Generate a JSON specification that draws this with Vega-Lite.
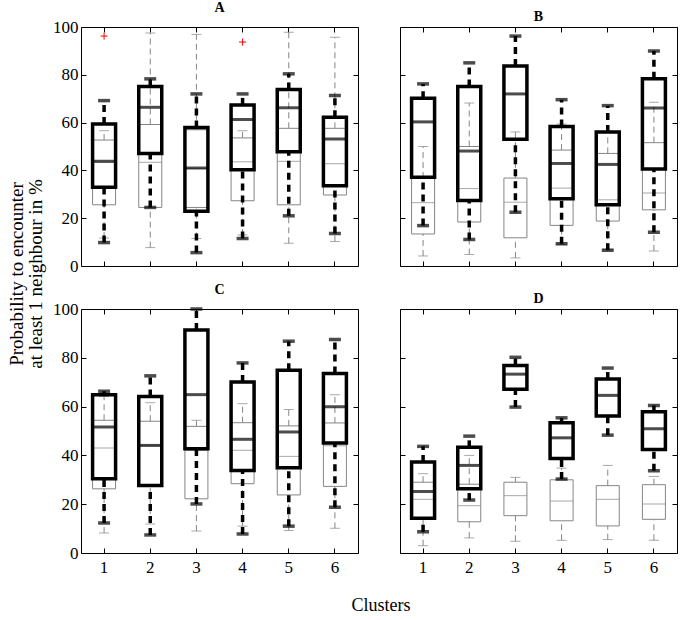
{
  "$schema": "https://vega.github.io/schema/vega-lite/v6.json",
  "padding": {"left": 7, "top": 0, "right": 2, "bottom": 2},
  "background": "white",
  "datasets": {
    "A": [
      {"cluster":1,"grp":"g","lo":11.7,"q1":25.6,"med":43.4,"q3":52.7,"hi":56.6},
      {"cluster":2,"grp":"g","lo":7.7,"q1":24.5,"med":43.4,"q3":59.2,"hi":97.5},
      {"cluster":3,"grp":"g","lo":11.5,"q1":24.5,"med":40.8,"q3":57.0,"hi":96.9},
      {"cluster":4,"grp":"g","lo":13.0,"q1":27.3,"med":43.6,"q3":53.6,"hi":56.6},
      {"cluster":5,"grp":"g","lo":9.5,"q1":25.6,"med":43.8,"q3":57.6,"hi":97.8},
      {"cluster":6,"grp":"g","lo":10.3,"q1":29.7,"med":42.8,"q3":57.6,"hi":95.7},
      {"cluster":1,"grp":"b","lo":9.8,"q1":32.9,"med":43.8,"q3":59.4,"hi":69.2},
      {"cluster":2,"grp":"b","lo":24.5,"q1":47.1,"med":66.4,"q3":75.1,"hi":78.3},
      {"cluster":3,"grp":"b","lo":5.6,"q1":22.9,"med":41.0,"q3":58.0,"hi":72.0},
      {"cluster":4,"grp":"b","lo":11.5,"q1":40.3,"med":61.3,"q3":67.4,"hi":72.0},
      {"cluster":5,"grp":"b","lo":21.0,"q1":47.8,"med":66.2,"q3":73.8,"hi":80.4},
      {"cluster":6,"grp":"b","lo":13.6,"q1":33.6,"med":53.1,"q3":62.2,"hi":71.3}
    ],
    "oA": [
      {"cluster":1,"val":96.2},
      {"cluster":4,"val":93.7}
    ],
    "B": [
      {"cluster":1,"grp":"g","lo":4.2,"q1":13.4,"med":26.5,"q3":36.8,"hi":50.0},
      {"cluster":2,"grp":"g","lo":4.8,"q1":18.4,"med":32.4,"q3":50.0,"hi":68.2},
      {"cluster":3,"grp":"g","lo":3.4,"q1":11.8,"med":26.7,"q3":36.8,"hi":56.1},
      {"cluster":4,"grp":"g","lo":9.0,"q1":17.0,"med":32.6,"q3":48.5,"hi":59.4},
      {"cluster":5,"grp":"g","lo":7.0,"q1":18.8,"med":27.7,"q3":47.1,"hi":56.1},
      {"cluster":6,"grp":"g","lo":6.3,"q1":23.5,"med":30.5,"q3":51.6,"hi":68.5},
      {"cluster":1,"grp":"b","lo":16.9,"q1":37.1,"med":60.3,"q3":70.2,"hi":76.2},
      {"cluster":2,"grp":"b","lo":11.1,"q1":27.4,"med":48.1,"q3":75.1,"hi":85.0},
      {"cluster":3,"grp":"b","lo":22.5,"q1":53.0,"med":72.0,"q3":83.7,"hi":96.2},
      {"cluster":4,"grp":"b","lo":9.3,"q1":28.1,"med":42.9,"q3":58.4,"hi":69.6},
      {"cluster":5,"grp":"b","lo":6.6,"q1":25.6,"med":42.5,"q3":56.1,"hi":67.1},
      {"cluster":6,"grp":"b","lo":14.1,"q1":40.6,"med":66.1,"q3":78.3,"hi":90.0}
    ],
    "C": [
      {"cluster":1,"grp":"g","lo":8.2,"q1":26.3,"med":43.0,"q3":54.4,"hi":64.1},
      {"cluster":2,"grp":"g","lo":11.9,"q1":28.0,"med":44.0,"q3":54.0,"hi":61.6},
      {"cluster":3,"grp":"g","lo":9.0,"q1":22.2,"med":42.0,"q3":51.9,"hi":54.4},
      {"cluster":4,"grp":"g","lo":11.0,"q1":28.4,"med":42.1,"q3":53.4,"hi":61.2},
      {"cluster":5,"grp":"g","lo":9.2,"q1":23.8,"med":39.6,"q3":52.1,"hi":58.8},
      {"cluster":6,"grp":"g","lo":10.1,"q1":27.3,"med":44.0,"q3":53.3,"hi":64.9},
      {"cluster":1,"grp":"b","lo":12.3,"q1":30.4,"med":51.6,"q3":64.9,"hi":66.3},
      {"cluster":2,"grp":"b","lo":7.4,"q1":27.7,"med":44.1,"q3":64.1,"hi":72.6},
      {"cluster":3,"grp":"b","lo":20.1,"q1":42.7,"med":64.9,"q3":91.4,"hi":100.0},
      {"cluster":4,"grp":"b","lo":7.8,"q1":33.8,"med":46.6,"q3":70.1,"hi":77.9},
      {"cluster":5,"grp":"b","lo":11.0,"q1":34.9,"med":49.6,"q3":74.9,"hi":86.8},
      {"cluster":6,"grp":"b","lo":18.8,"q1":45.1,"med":59.9,"q3":73.6,"hi":87.5}
    ],
    "D": [
      {"cluster":1,"grp":"g","lo":3.0,"q1":14.0,"med":22.0,"q3":29.0,"hi":32.5},
      {"cluster":2,"grp":"g","lo":6.2,"q1":12.8,"med":19.4,"q3":28.2,"hi":40.0},
      {"cluster":3,"grp":"g","lo":4.8,"q1":15.3,"med":23.5,"q3":29.0,"hi":31.0},
      {"cluster":4,"grp":"g","lo":5.2,"q1":13.2,"med":21.3,"q3":30.0,"hi":34.8},
      {"cluster":5,"grp":"g","lo":5.5,"q1":11.1,"med":22.0,"q3":27.6,"hi":35.9},
      {"cluster":6,"grp":"g","lo":5.2,"q1":13.8,"med":20.1,"q3":28.0,"hi":31.4},
      {"cluster":1,"grp":"b","lo":8.7,"q1":14.2,"med":25.2,"q3":37.3,"hi":43.7},
      {"cluster":2,"grp":"b","lo":21.7,"q1":26.3,"med":35.9,"q3":43.3,"hi":47.9},
      {"cluster":3,"grp":"b","lo":59.8,"q1":67.1,"med":73.3,"q3":76.8,"hi":80.2},
      {"cluster":4,"grp":"b","lo":30.3,"q1":38.7,"med":47.2,"q3":53.4,"hi":55.4},
      {"cluster":5,"grp":"b","lo":48.3,"q1":56.1,"med":64.6,"q3":71.3,"hi":75.8},
      {"cluster":6,"grp":"b","lo":33.7,"q1":42.4,"med":50.9,"q3":57.9,"hi":60.5}
    ]
  },
  "title": {"text": "Clusters", "orient": "bottom", "anchor": "middle", "fontSize": 18, "fontWeight": "normal", "font": "Liberation Serif", "color": "black", "offset": 21, "dx": 38},
  "vconcat": [
    {
      "title": {"text": ["Probability to encounter", "at least 1 neighbour in %"], "orient": "left", "anchor": "middle", "fontSize": 19, "fontWeight": "normal", "font": "Liberation Serif", "color": "black", "offset": 6, "lineHeight": 19, "dx": 14},
      "spacing": 7,
      "vconcat": [
        {
          "spacing": 40,
          "hconcat": [
            {
              "title": {"text": "A"},
              "width": 277, "height": 239,
              "data": {"name": "A"},
              "resolve": {"axis": {"x": "independent", "y": "independent"}},
              "layer": [
                {
                  "encoding": {"x": {"field": "cluster", "type": "ordinal", "scale": {"domain": [1,2,3,4,5,6], "paddingInner": 0, "paddingOuter": 0}, "axis": {"title": null, "labels": false, "labelAngle": 0}}},
                  "layer": [
                    {"transform": [{"filter": "datum.grp == 'g'"}], "mark": {"type": "rule", "color": "#858585", "strokeWidth": 1, "strokeDash": [6, 4]},
                     "encoding": {"y": {"field": "q3", "type": "quantitative", "scale": {"domain": [0, 100], "nice": false}, "axis": {"values": [0,20,40,60,80,100], "title": null, "labelPadding": 8}}, "y2": {"field": "hi"}}},
                    {"transform": [{"filter": "datum.grp == 'g'"}], "mark": {"type": "rule", "color": "#858585", "strokeWidth": 1, "strokeDash": [6, 4]},
                     "encoding": {"y": {"field": "lo", "type": "quantitative"}, "y2": {"field": "q1"}}},
                    {"transform": [{"filter": "datum.grp == 'g'"}], "mark": {"type": "tick", "color": "#858585", "size": 10, "thickness": 1},
                     "encoding": {"y": {"field": "hi", "type": "quantitative"}}},
                    {"transform": [{"filter": "datum.grp == 'g'"}], "mark": {"type": "tick", "color": "#858585", "size": 10, "thickness": 1},
                     "encoding": {"y": {"field": "lo", "type": "quantitative"}}},
                    {"transform": [{"filter": "datum.grp == 'g'"}], "mark": {"type": "bar", "fill": null, "fillOpacity": 0, "stroke": "#858585", "strokeWidth": 1, "width": 23},
                     "encoding": {"y": {"field": "q1", "type": "quantitative"}, "y2": {"field": "q3"}}},
                    {"transform": [{"filter": "datum.grp == 'g'"}], "mark": {"type": "tick", "color": "#858585", "size": 23, "thickness": 1},
                     "encoding": {"y": {"field": "med", "type": "quantitative"}}},
                    {"transform": [{"filter": "datum.grp == 'b'"}], "mark": {"type": "rule", "color": "black", "strokeWidth": 3.5, "strokeDash": [7, 5]},
                     "encoding": {"y": {"field": "q3", "type": "quantitative"}, "y2": {"field": "hi"}}},
                    {"transform": [{"filter": "datum.grp == 'b'"}], "mark": {"type": "rule", "color": "black", "strokeWidth": 3.5, "strokeDash": [7, 5]},
                     "encoding": {"y": {"field": "lo", "type": "quantitative"}, "y2": {"field": "q1"}}},
                    {"transform": [{"filter": "datum.grp == 'b'"}], "mark": {"type": "tick", "color": "black", "size": 12, "thickness": 3.5},
                     "encoding": {"y": {"field": "hi", "type": "quantitative"}}},
                    {"transform": [{"filter": "datum.grp == 'b'"}], "mark": {"type": "tick", "color": "black", "size": 12, "thickness": 3.5},
                     "encoding": {"y": {"field": "lo", "type": "quantitative"}}},
                    {"transform": [{"filter": "datum.grp == 'b'"}], "mark": {"type": "bar", "fill": null, "fillOpacity": 0, "stroke": "black", "strokeWidth": 3.5, "width": 23},
                     "encoding": {"y": {"field": "q1", "type": "quantitative"}, "y2": {"field": "q3"}}},
                    {"transform": [{"filter": "datum.grp == 'b'"}], "mark": {"type": "tick", "color": "black", "size": 23, "thickness": 3},
                     "encoding": {"y": {"field": "med", "type": "quantitative"}}},
                    {"data": {"name": "oA"}, "mark": {"type": "point", "shape": "M-1,0L1,0M0,-1L0,1", "filled": false, "stroke": "red", "strokeWidth": 1, "size": 50, "opacity": 1},
                     "encoding": {"y": {"field": "val", "type": "quantitative"}}}
                  ]
                },
                {"mark": {"type": "rule", "opacity": 0},
                 "encoding": {"x": {"field": "cluster", "type": "ordinal", "axis": {"orient": "top", "labels": false, "title": null}}, "y": {"field": "hi", "type": "quantitative", "axis": {"orient": "right", "labels": false, "title": null, "values": [0,20,40,60,80,100]}}}}
              ]
            },
            {
              "title": {"text": "B"},
              "width": 277, "height": 239,
              "data": {"name": "B"},
              "resolve": {"axis": {"x": "independent", "y": "independent"}},
              "layer": [
                {
                  "encoding": {"x": {"field": "cluster", "type": "ordinal", "scale": {"domain": [1,2,3,4,5,6], "paddingInner": 0, "paddingOuter": 0}, "axis": {"title": null, "labels": false, "labelAngle": 0}}},
                  "layer": [
                    {"transform": [{"filter": "datum.grp == 'g'"}], "mark": {"type": "rule", "color": "#858585", "strokeWidth": 1, "strokeDash": [6, 4]},
                     "encoding": {"y": {"field": "q3", "type": "quantitative", "scale": {"domain": [0, 100], "nice": false}, "axis": {"values": [0,20,40,60,80,100], "title": null, "labels": false}}, "y2": {"field": "hi"}}},
                    {"transform": [{"filter": "datum.grp == 'g'"}], "mark": {"type": "rule", "color": "#858585", "strokeWidth": 1, "strokeDash": [6, 4]},
                     "encoding": {"y": {"field": "lo", "type": "quantitative"}, "y2": {"field": "q1"}}},
                    {"transform": [{"filter": "datum.grp == 'g'"}], "mark": {"type": "tick", "color": "#858585", "size": 10, "thickness": 1},
                     "encoding": {"y": {"field": "hi", "type": "quantitative"}}},
                    {"transform": [{"filter": "datum.grp == 'g'"}], "mark": {"type": "tick", "color": "#858585", "size": 10, "thickness": 1},
                     "encoding": {"y": {"field": "lo", "type": "quantitative"}}},
                    {"transform": [{"filter": "datum.grp == 'g'"}], "mark": {"type": "bar", "fill": null, "fillOpacity": 0, "stroke": "#858585", "strokeWidth": 1, "width": 23},
                     "encoding": {"y": {"field": "q1", "type": "quantitative"}, "y2": {"field": "q3"}}},
                    {"transform": [{"filter": "datum.grp == 'g'"}], "mark": {"type": "tick", "color": "#858585", "size": 23, "thickness": 1},
                     "encoding": {"y": {"field": "med", "type": "quantitative"}}},
                    {"transform": [{"filter": "datum.grp == 'b'"}], "mark": {"type": "rule", "color": "black", "strokeWidth": 3.5, "strokeDash": [7, 5]},
                     "encoding": {"y": {"field": "q3", "type": "quantitative"}, "y2": {"field": "hi"}}},
                    {"transform": [{"filter": "datum.grp == 'b'"}], "mark": {"type": "rule", "color": "black", "strokeWidth": 3.5, "strokeDash": [7, 5]},
                     "encoding": {"y": {"field": "lo", "type": "quantitative"}, "y2": {"field": "q1"}}},
                    {"transform": [{"filter": "datum.grp == 'b'"}], "mark": {"type": "tick", "color": "black", "size": 12, "thickness": 3.5},
                     "encoding": {"y": {"field": "hi", "type": "quantitative"}}},
                    {"transform": [{"filter": "datum.grp == 'b'"}], "mark": {"type": "tick", "color": "black", "size": 12, "thickness": 3.5},
                     "encoding": {"y": {"field": "lo", "type": "quantitative"}}},
                    {"transform": [{"filter": "datum.grp == 'b'"}], "mark": {"type": "bar", "fill": null, "fillOpacity": 0, "stroke": "black", "strokeWidth": 3.5, "width": 23},
                     "encoding": {"y": {"field": "q1", "type": "quantitative"}, "y2": {"field": "q3"}}},
                    {"transform": [{"filter": "datum.grp == 'b'"}], "mark": {"type": "tick", "color": "black", "size": 23, "thickness": 3},
                     "encoding": {"y": {"field": "med", "type": "quantitative"}}}
                  ]
                },
                {"mark": {"type": "rule", "opacity": 0},
                 "encoding": {"x": {"field": "cluster", "type": "ordinal", "axis": {"orient": "top", "labels": false, "title": null}}, "y": {"field": "hi", "type": "quantitative", "axis": {"orient": "right", "labels": false, "title": null, "values": [0,20,40,60,80,100]}}}}
              ]
            }
          ]
        },
        {
          "spacing": 40,
          "hconcat": [
            {
              "title": {"text": "C"},
              "width": 277, "height": 244,
              "data": {"name": "C"},
              "resolve": {"axis": {"x": "independent", "y": "independent"}},
              "layer": [
                {
                  "encoding": {"x": {"field": "cluster", "type": "ordinal", "scale": {"domain": [1,2,3,4,5,6], "paddingInner": 0, "paddingOuter": 0}, "axis": {"title": null, "labelAngle": 0, "labelPadding": 11}}},
                  "layer": [
                    {"transform": [{"filter": "datum.grp == 'g'"}], "mark": {"type": "rule", "color": "#858585", "strokeWidth": 1, "strokeDash": [6, 4]},
                     "encoding": {"y": {"field": "q3", "type": "quantitative", "scale": {"domain": [0, 100], "nice": false}, "axis": {"values": [0,20,40,60,80,100], "title": null, "labelPadding": 8}}, "y2": {"field": "hi"}}},
                    {"transform": [{"filter": "datum.grp == 'g'"}], "mark": {"type": "rule", "color": "#858585", "strokeWidth": 1, "strokeDash": [6, 4]},
                     "encoding": {"y": {"field": "lo", "type": "quantitative"}, "y2": {"field": "q1"}}},
                    {"transform": [{"filter": "datum.grp == 'g'"}], "mark": {"type": "tick", "color": "#858585", "size": 10, "thickness": 1},
                     "encoding": {"y": {"field": "hi", "type": "quantitative"}}},
                    {"transform": [{"filter": "datum.grp == 'g'"}], "mark": {"type": "tick", "color": "#858585", "size": 10, "thickness": 1},
                     "encoding": {"y": {"field": "lo", "type": "quantitative"}}},
                    {"transform": [{"filter": "datum.grp == 'g'"}], "mark": {"type": "bar", "fill": null, "fillOpacity": 0, "stroke": "#858585", "strokeWidth": 1, "width": 23},
                     "encoding": {"y": {"field": "q1", "type": "quantitative"}, "y2": {"field": "q3"}}},
                    {"transform": [{"filter": "datum.grp == 'g'"}], "mark": {"type": "tick", "color": "#858585", "size": 23, "thickness": 1},
                     "encoding": {"y": {"field": "med", "type": "quantitative"}}},
                    {"transform": [{"filter": "datum.grp == 'b'"}], "mark": {"type": "rule", "color": "black", "strokeWidth": 3.5, "strokeDash": [7, 5]},
                     "encoding": {"y": {"field": "q3", "type": "quantitative"}, "y2": {"field": "hi"}}},
                    {"transform": [{"filter": "datum.grp == 'b'"}], "mark": {"type": "rule", "color": "black", "strokeWidth": 3.5, "strokeDash": [7, 5]},
                     "encoding": {"y": {"field": "lo", "type": "quantitative"}, "y2": {"field": "q1"}}},
                    {"transform": [{"filter": "datum.grp == 'b'"}], "mark": {"type": "tick", "color": "black", "size": 12, "thickness": 3.5},
                     "encoding": {"y": {"field": "hi", "type": "quantitative"}}},
                    {"transform": [{"filter": "datum.grp == 'b'"}], "mark": {"type": "tick", "color": "black", "size": 12, "thickness": 3.5},
                     "encoding": {"y": {"field": "lo", "type": "quantitative"}}},
                    {"transform": [{"filter": "datum.grp == 'b'"}], "mark": {"type": "bar", "fill": null, "fillOpacity": 0, "stroke": "black", "strokeWidth": 3.5, "width": 23},
                     "encoding": {"y": {"field": "q1", "type": "quantitative"}, "y2": {"field": "q3"}}},
                    {"transform": [{"filter": "datum.grp == 'b'"}], "mark": {"type": "tick", "color": "black", "size": 23, "thickness": 3},
                     "encoding": {"y": {"field": "med", "type": "quantitative"}}}
                  ]
                },
                {"mark": {"type": "rule", "opacity": 0},
                 "encoding": {"x": {"field": "cluster", "type": "ordinal", "axis": {"orient": "top", "labels": false, "title": null}}, "y": {"field": "hi", "type": "quantitative", "axis": {"orient": "right", "labels": false, "title": null, "values": [0,20,40,60,80,100]}}}}
              ]
            },
            {
              "title": {"text": "D"},
              "width": 277, "height": 244,
              "data": {"name": "D"},
              "resolve": {"axis": {"x": "independent", "y": "independent"}},
              "layer": [
                {
                  "encoding": {"x": {"field": "cluster", "type": "ordinal", "scale": {"domain": [1,2,3,4,5,6], "paddingInner": 0, "paddingOuter": 0}, "axis": {"title": null, "labelAngle": 0, "labelPadding": 11}}},
                  "layer": [
                    {"transform": [{"filter": "datum.grp == 'g'"}], "mark": {"type": "rule", "color": "#858585", "strokeWidth": 1, "strokeDash": [6, 4]},
                     "encoding": {"y": {"field": "q3", "type": "quantitative", "scale": {"domain": [0, 100], "nice": false}, "axis": {"values": [0,20,40,60,80,100], "title": null, "labels": false}}, "y2": {"field": "hi"}}},
                    {"transform": [{"filter": "datum.grp == 'g'"}], "mark": {"type": "rule", "color": "#858585", "strokeWidth": 1, "strokeDash": [6, 4]},
                     "encoding": {"y": {"field": "lo", "type": "quantitative"}, "y2": {"field": "q1"}}},
                    {"transform": [{"filter": "datum.grp == 'g'"}], "mark": {"type": "tick", "color": "#858585", "size": 10, "thickness": 1},
                     "encoding": {"y": {"field": "hi", "type": "quantitative"}}},
                    {"transform": [{"filter": "datum.grp == 'g'"}], "mark": {"type": "tick", "color": "#858585", "size": 10, "thickness": 1},
                     "encoding": {"y": {"field": "lo", "type": "quantitative"}}},
                    {"transform": [{"filter": "datum.grp == 'g'"}], "mark": {"type": "bar", "fill": null, "fillOpacity": 0, "stroke": "#858585", "strokeWidth": 1, "width": 23},
                     "encoding": {"y": {"field": "q1", "type": "quantitative"}, "y2": {"field": "q3"}}},
                    {"transform": [{"filter": "datum.grp == 'g'"}], "mark": {"type": "tick", "color": "#858585", "size": 23, "thickness": 1},
                     "encoding": {"y": {"field": "med", "type": "quantitative"}}},
                    {"transform": [{"filter": "datum.grp == 'b'"}], "mark": {"type": "rule", "color": "black", "strokeWidth": 3.5, "strokeDash": [7, 5]},
                     "encoding": {"y": {"field": "q3", "type": "quantitative"}, "y2": {"field": "hi"}}},
                    {"transform": [{"filter": "datum.grp == 'b'"}], "mark": {"type": "rule", "color": "black", "strokeWidth": 3.5, "strokeDash": [7, 5]},
                     "encoding": {"y": {"field": "lo", "type": "quantitative"}, "y2": {"field": "q1"}}},
                    {"transform": [{"filter": "datum.grp == 'b'"}], "mark": {"type": "tick", "color": "black", "size": 12, "thickness": 3.5},
                     "encoding": {"y": {"field": "hi", "type": "quantitative"}}},
                    {"transform": [{"filter": "datum.grp == 'b'"}], "mark": {"type": "tick", "color": "black", "size": 12, "thickness": 3.5},
                     "encoding": {"y": {"field": "lo", "type": "quantitative"}}},
                    {"transform": [{"filter": "datum.grp == 'b'"}], "mark": {"type": "bar", "fill": null, "fillOpacity": 0, "stroke": "black", "strokeWidth": 3.5, "width": 23},
                     "encoding": {"y": {"field": "q1", "type": "quantitative"}, "y2": {"field": "q3"}}},
                    {"transform": [{"filter": "datum.grp == 'b'"}], "mark": {"type": "tick", "color": "black", "size": 23, "thickness": 3},
                     "encoding": {"y": {"field": "med", "type": "quantitative"}}}
                  ]
                },
                {"mark": {"type": "rule", "opacity": 0},
                 "encoding": {"x": {"field": "cluster", "type": "ordinal", "axis": {"orient": "top", "labels": false, "title": null}}, "y": {"field": "hi", "type": "quantitative", "axis": {"orient": "right", "labels": false, "title": null, "values": [0,20,40,60,80,100]}}}}
              ]
            }
          ]
        }
      ]
    }
  ],
  "config": {
    "font": "Liberation Serif",
    "view": {"stroke": "black", "strokeWidth": 1},
    "title": {"font": "Liberation Serif", "fontSize": 14, "fontWeight": "bold", "color": "black", "offset": 3},
    "axis": {"domain": false, "grid": false, "tickColor": "black", "tickSize": -5, "labelPadding": 10, "labelFont": "Liberation Serif", "labelFontSize": 17, "labelColor": "black"}
  }
}
